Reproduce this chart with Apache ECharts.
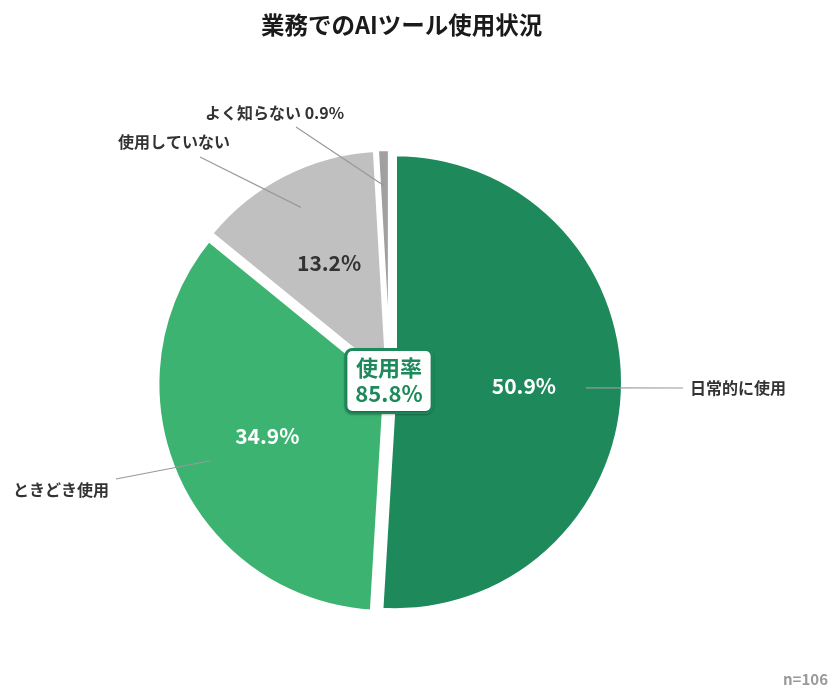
<!DOCTYPE html>
<html><head><meta charset="utf-8">
<script src="https://cdn.jsdelivr.net/npm/echarts@6/dist/echarts.min.js"></script>
<style>html,body{margin:0;padding:0;background:#fff}#c{width:840px;height:698px}</style>
</head><body><div id="c"></div>
<script>
const categories = ['日常的に使用', 'ときどき使用', '使用していない', 'よく知らない'];
const values = [50.9, 34.9, 13.2, 0.9];
const sliceColors = ['#1e8a5c', '#3cb371', '#c0c0c0', '#a0a0a0'];
const valueLabelColors = ['#ffffff', '#ffffff', '#333333', '#333333'];
const showInnerValue = [true, true, true, false];
const showValueInName = [false, false, false, true];
const titleText = '業務でのAIツール使用状況';
const sampleNote = 'n=106';
const usageLabel = '使用率';

// label placement (layout only)
const outerLabelLeft = [690, 13, 118, 205];
const outerLabelMidY = [388, 490, 142, 113];
const lineEnd = [[0, -7, 0], [1, 7, -11], [0, 82, 15], [0, 91, 14]];

const FONT = "'Noto Sans CJK JP', 'Noto Sans', sans-serif";
const usageRate = (values[0] + values[1]).toFixed(1);

const chart = echarts.init(document.getElementById('c'), null, {renderer: 'canvas'});

const pieData = categories.map((n, i) => ({
  name: n, value: values[i], selected: true,
  itemStyle: {color: sliceColors[i]}
}));
const outerData = categories.map((n, i) => ({name: n, value: values[i]}));
const innerData = categories.map((n, i) => ({
  name: n, value: values[i],
  label: {show: showInnerValue[i], color: valueLabelColors[i]}
}));

chart.setOption({
  animation: false,
  backgroundColor: '#ffffff',
  title: {
    text: titleText, left: 256, top: 8,
    textStyle: {fontFamily: FONT, fontSize: 23.5, fontWeight: 'bold', color: '#1a1a1a'}
  },
  graphic: [
    {
      type: 'text', right: 12, bottom: 11, z: 10,
      style: {text: sampleNote, font: 'bold 15px ' + FONT, fill: '#999999'}
    },
    {
      type: 'text', x: 389, y: 381, z: 100,
      style: {
        text: usageLabel + '\n' + usageRate + '%',
        font: 'bold 22px ' + FONT, fill: '#1e8a5c',
        align: 'center', verticalAlign: 'middle', lineHeight: 26,
        backgroundColor: '#ffffff', borderColor: '#1e8a5c', borderWidth: 3,
        borderRadius: 5, padding: [4, 8, 4, 8],
        shadowColor: 'rgba(0,0,0,0.25)', shadowBlur: 2, shadowOffsetY: 1
      }
    }
  ],
  series: [
    {
      type: 'pie', center: [390, 382], radius: 228,
      startAngle: 90, clockwise: true,
      selectedMode: 'multiple', selectedOffset: 5,
      silent: true, avoidLabelOverlap: false,
      itemStyle: {borderColor: '#ffffff', borderWidth: 4},
      select: {itemStyle: {borderColor: '#ffffff', borderWidth: 4}},
      label: {show: false}, labelLine: {show: false},
      data: pieData
    },
    {
      type: 'pie', center: [390, 382], radius: 196,
      startAngle: 90, clockwise: true, silent: true,
      avoidLabelOverlap: false, z: 5,
      itemStyle: {color: 'rgba(0,0,0,0)'},
      label: {
        show: true, position: 'outside',
        fontFamily: FONT, fontSize: 16, fontWeight: 'bold', color: '#333333',
        formatter: p => showValueInName[p.dataIndex] ? p.name + ' ' + p.value + '%' : p.name
      },
      labelLine: {show: true, length: 10, length2: 0, lineStyle: {color: '#999999', width: 1.2}},
      labelLayout: function (params) {
        const i = params.dataIndex;
        const w = params.labelRect.width;
        const x = outerLabelLeft[i];
        const y = outerLabelMidY[i];
        const e = lineEnd[i];
        const out = {x: x, y: y, align: 'left', verticalAlign: 'middle'};
        if (params.labelLinePoints) {
          out.labelLinePoints = [params.labelLinePoints[0], [x + e[0] * w + e[1], y + e[2]]];
        }
        return out;
      },
      data: outerData
    },
    {
      type: 'pie', center: [390, 382], radius: 262,
      startAngle: 90, clockwise: true, silent: true, z: 6,
      itemStyle: {color: 'rgba(0,0,0,0)'},
      label: {
        show: true, position: 'inside',
        fontFamily: FONT, fontSize: 21, fontWeight: 'bold',
        formatter: p => p.value + '%'
      },
      labelLine: {show: false},
      data: innerData
    }
  ]
});
</script></body></html>
